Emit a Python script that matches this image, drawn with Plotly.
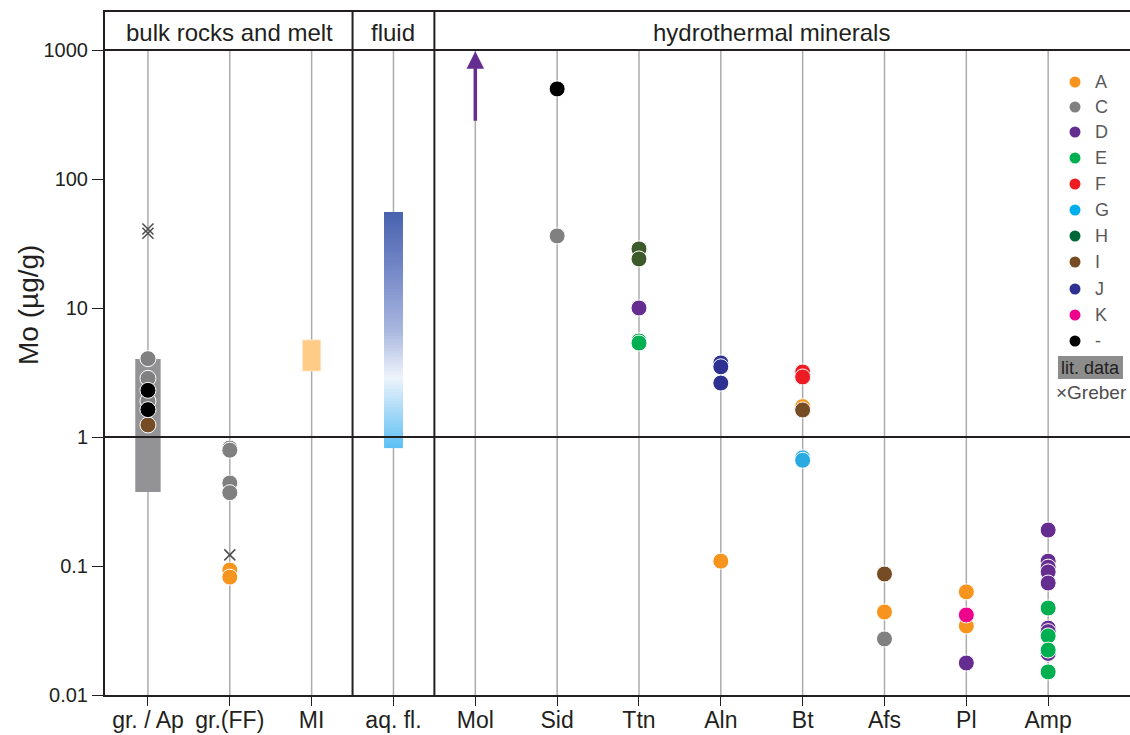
import plotly.graph_objects as go
import math

# ---------------- data ----------------
categories = ["gr. / Ap", "gr.(FF)", "MI", "aq. fl.", "Mol", "Sid", "Ttn", "Aln", "Bt", "Afs", "Pl", "Amp"]
sections = ["bulk rocks and melt", "fluid", "hydrothermal minerals"]
y_ticks = [0.01, 0.1, 1, 10, 100, 1000]
y_ticklabels = ["0.01", "0.1", "1", "10", "100", "1000"]

group_names = ["C", "A", "D", "E", "F", "G", "H", "I", "J", "K", "-"]
legend_order = ["A", "C", "D", "E", "F", "G", "H", "I", "J", "K", "-"]

A_cat = ["gr.(FF)", "gr.(FF)", "Aln", "Bt", "Afs", "Pl", "Pl"]
A_val = [0.093, 0.082, 0.109, 1.72, 0.044, 0.063, 0.0343]
C_cat = ["gr. / Ap", "gr. / Ap", "gr. / Ap", "gr.(FF)", "gr.(FF)", "gr.(FF)", "gr.(FF)", "Sid", "Afs"]
C_val = [4.05, 2.85, 1.9, 0.82, 0.79, 0.44, 0.37, 36.2, 0.0272]
D_cat = ["Ttn", "Pl", "Amp", "Amp", "Amp", "Amp", "Amp", "Amp", "Amp", "Amp"]
D_val = [10.0, 0.0177, 0.19, 0.109, 0.098, 0.090, 0.0738, 0.033, 0.031, 0.021]
E_cat = ["Ttn", "Ttn", "Amp", "Amp", "Amp", "Amp"]
E_val = [5.55, 5.35, 0.0472, 0.0287, 0.0223, 0.0151]
F_cat = ["Bt", "Bt"]
F_val = [3.19, 2.92]
G_cat = ["Bt", "Bt"]
G_val = [0.69, 0.66]
H_cat = ["Ttn", "Ttn"]
H_val = [28.7, 24.0]
I_cat = ["gr. / Ap", "Bt", "Afs"]
I_val = [1.24, 1.62, 0.0867]
J_cat = ["Aln", "Aln", "Aln"]
J_val = [3.75, 3.5, 2.62]
K_cat = ["Pl"]
K_val = [0.0417]
X_cat = ["gr. / Ap", "gr. / Ap", "Sid"]   # group "-"
X_val = [2.3, 1.63, 499]

greber_cat = ["gr. / Ap", "gr. / Ap", "gr.(FF)"]
greber_val = [41, 38, 0.122]

lit_range_cat = "gr. / Ap"
lit_range = [0.375, 4.03]
mi_range = [3.25, 5.65]
fluid_range = [0.82, 55.5]
mol_arrow = [276, 1000]

group_data = {
    "A": (A_cat, A_val), "C": (C_cat, C_val), "D": (D_cat, D_val), "E": (E_cat, E_val),
    "F": (F_cat, F_val), "G": (G_cat, G_val), "H": (H_cat, H_val), "I": (I_cat, I_val),
    "J": (J_cat, J_val), "K": (K_cat, K_val), "-": (X_cat, X_val),
}

# ---------------- styles ----------------
colors = {
    "A": "#F7941D", "C": "#808080", "D": "#662D91", "E": "#00B050", "F": "#ED1C24",
    "G": "#29ABE2", "H": "#3D5A2B", "I": "#754C24", "J": "#2E3192", "K": "#EC008C", "-": "#000000",
}
legend_colors = dict(colors)
legend_colors["H"] = "#006838"
legend_colors["G"] = "#00AEEF"

FONT = "Liberation Sans, Arial, sans-serif"
W, H = 1130, 735
ML, MR, MT, MB = 105, 0, 12, 40
YMIN, YMAX = -2.0, 3.2946
XMIN, XMAX = -0.525, 12.0


def px_to_val(py):
    frac = (H - MB - py) / (H - MB - MT)
    return 10 ** (YMIN + frac * (YMAX - YMIN))


def px_to_x(px):
    return XMIN + (px - ML) / (W - ML - MR) * (XMAX - XMIN)


def xi(cat):
    return categories.index(cat)


def pfx(px):
    return (px - ML) / (W - ML - MR)


def pfy(py):
    return 1 - (py - MT) / (H - MT - MB)


fig = go.Figure()
shapes = []

# category gridlines
for i in range(len(categories)):
    shapes.append(dict(type="line", xref="x", yref="y", x0=i, x1=i, y0=0.01, y1=1000,
                       line=dict(color="#ABABAB", width=1.5), layer="below"))

# lit data range rectangle
shapes.append(dict(type="rect", xref="x", yref="y", x0=xi(lit_range_cat) - 0.155, x1=xi(lit_range_cat) + 0.155,
                   y0=lit_range[0], y1=lit_range[1], fillcolor="#939396", line=dict(width=0), layer="below"))
# MI rectangle
shapes.append(dict(type="rect", xref="x", yref="y", x0=xi("MI") - 0.11, x1=xi("MI") + 0.11,
                   y0=mi_range[0], y1=mi_range[1], fillcolor="#FFCC88",
                   line=dict(color="#FFE3BD", width=1), layer="below"))

# fluid gradient rectangle
stops = [(0.0, (0x5B, 0xC0, 0xF5)), (0.15, (0xA5, 0xD8, 0xF7)), (0.30, (0xEE, 0xF4, 0xFB)),
         (0.5, (0xA8, 0xB6, 0xDF)), (0.75, (0x76, 0x89, 0xC8)), (1.0, (0x49, 0x62, 0xAE))]


def grad_color(t):
    for (t0, c0), (t1, c1) in zip(stops[:-1], stops[1:]):
        if t0 <= t <= t1:
            f = (t - t0) / (t1 - t0)
            return "rgb(%d,%d,%d)" % tuple(round(a + (b - a) * f) for a, b in zip(c0, c1))
    return "rgb(%d,%d,%d)" % stops[-1][1]


lo, hi = math.log10(fluid_range[0]), math.log10(fluid_range[1])
N = 80
for k in range(N):
    a = lo + (hi - lo) * k / N
    b = min(lo + (hi - lo) * (k + 2.5) / N, hi)
    c = grad_color((k + 0.5) / N)
    shapes.append(dict(type="rect", xref="x", yref="y", x0=xi("aq. fl.") - 0.115, x1=xi("aq. fl.") + 0.115,
                       y0=10 ** a, y1=10 ** b, fillcolor=c,
                       line=dict(width=0), layer="below"))

# horizontal black lines at 1000 and 1
for yv in [1000, 1]:
    shapes.append(dict(type="line", xref="paper", yref="y", x0=0, x1=1, y0=yv, y1=yv,
                       line=dict(color="#231F20", width=1.8), layer="above"))
# section separators
for xv in [2.5, 3.5]:
    shapes.append(dict(type="line", xref="x", yref="paper", x0=xv, x1=xv, y0=0, y1=1,
                       line=dict(color="#231F20", width=2), layer="above"))

# legend lit data box
lx0, lx1 = px_to_x(1058), px_to_x(1123)
shapes.append(dict(type="rect", xref="x", yref="y", x0=lx0, x1=lx1, y0=px_to_val(379), y1=px_to_val(356),
                   fillcolor="#8C8C8C", line=dict(width=0), layer="below"))

# Greber crosses
fig.add_trace(go.Scatter(x=[xi(c) for c in greber_cat], y=greber_val, mode="markers",
                         marker=dict(symbol="x-thin-open", size=11, color="#4D4D4D",
                                     line=dict(width=1.5, color="#4D4D4D")),
                         showlegend=False, hoverinfo="y"))

# data points
for g in group_names:
    cats, vals = group_data[g]
    fig.add_trace(go.Scatter(x=[xi(c) for c in cats], y=vals, mode="markers", name=g,
                             marker=dict(size=16, color=colors[g], line=dict(color="white", width=1)),
                             showlegend=False))

# custom legend
leg_y = [82, 107, 132, 158, 184, 210, 236, 262, 289, 315, 341]
fig.add_trace(go.Scatter(x=[px_to_x(1075)] * len(legend_order), y=[px_to_val(p) for p in leg_y],
                         mode="markers", marker=dict(size=11, color=[legend_colors[g] for g in legend_order]),
                         showlegend=False, hoverinfo="skip"))
annotations = []
for g, p in zip(legend_order, leg_y):
    annotations.append(dict(xref="paper", yref="paper", x=pfx(1093), y=pfy(p), xanchor="left", yanchor="middle",
                            text=g, showarrow=False, font=dict(family=FONT, size=18, color="#58595B")))
annotations.append(dict(xref="paper", yref="paper", x=pfx(1090), y=pfy(368), xanchor="center", yanchor="middle",
                        text="lit. data", showarrow=False, font=dict(family=FONT, size=18, color="#231F20")))
annotations.append(dict(xref="paper", yref="paper", x=pfx(1091), y=pfy(392), xanchor="center", yanchor="middle",
                        text="×Greber", showarrow=False, font=dict(family=FONT, size=19, color="#4D4D4D")))

# Mol arrow
annotations.append(dict(x=xi("Mol"), y=math.log10(mol_arrow[1]) - 0.01, ax=xi("Mol"), ay=math.log10(mol_arrow[0]),
                        xref="x", yref="y", axref="x", ayref="y", showarrow=True, arrowhead=2,
                        arrowsize=1.0, arrowwidth=3.5, arrowcolor="#662D91", text=""))

# section headers
sec_x = [229, 393, 771]
for s, sx in zip(sections, sec_x):
    annotations.append(dict(xref="paper", yref="paper", x=pfx(sx), y=pfy(32), xanchor="center", yanchor="middle",
                            text=s, showarrow=False, font=dict(family=FONT, size=24, color="#231F20")))

# y axis title
annotations.append(dict(xref="paper", yref="paper", x=pfx(28), y=pfy(305), xanchor="center", yanchor="middle",
                        text="Mo (µg/g)", textangle=-90, showarrow=False,
                        font=dict(family=FONT, size=28, color="#231F20")))

fig.update_layout(
    width=W, height=H, margin=dict(l=ML, r=MR, t=MT, b=MB, autoexpand=False),
    paper_bgcolor="white", plot_bgcolor="white",
    shapes=shapes, annotations=annotations,
    xaxis=dict(range=[XMIN, XMAX], tickmode="array", tickvals=list(range(len(categories))),
               ticktext=categories, showgrid=False, zeroline=False, showline=True, linecolor="#231F20",
               linewidth=2, mirror=True, ticks="outside", ticklen=9, tickcolor="#231F20", tickwidth=1.2,
               automargin=False, ticklabelstandoff=-6,
               tickfont=dict(family=FONT, size=23, color="#231F20")),
    yaxis=dict(type="log", range=[YMIN, YMAX], tickmode="array", tickvals=y_ticks, ticktext=y_ticklabels,
               showgrid=False, zeroline=False, showline=True, linecolor="#231F20", linewidth=2,
               ticks="outside", ticklen=11, tickcolor="#231F20", tickwidth=1.2, automargin=False,
               tickfont=dict(family=FONT, size=20, color="#231F20")),
    showlegend=False,
)

fig.write_html("out.html", config={"displayModeBar": False},
               post_script="document.body.style.margin='0';document.body.style.overflow='hidden';")
